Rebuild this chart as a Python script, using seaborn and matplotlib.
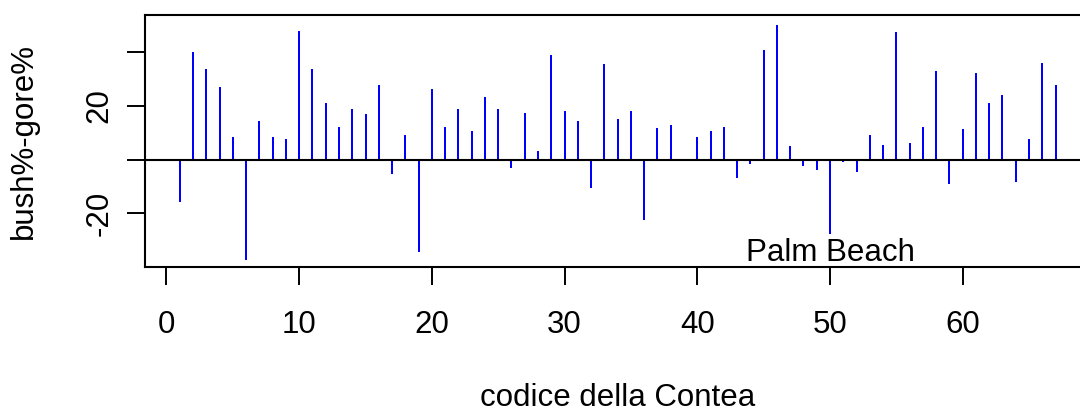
import numpy as np
import pandas as pd
import matplotlib
matplotlib.use("Agg")
import matplotlib.pyplot as plt
import seaborn as sns

# County code (1..67) and Bush% - Gore% margin for each Florida county
county_code = list(range(1, 68))
margin = [
    -15.9, 39.9, 33.9, 27.1, 8.5, -37.4, 14.5, 8.5, 7.8, 47.9,
    33.9, 21.1, 12.2, 19.0, 16.8, 27.9, -5.2, 9.1, -34.3, 26.3,
    12.2, 19.0, 10.8, 23.4, 19.0, -3.2, 17.4, 3.2, 39.0, 18.1,
    14.5, -10.7, 35.4, 15.2, 18.1, -22.5, 11.6, 13.0, 0.3, 8.5,
    10.8, 12.2, -6.9, -1.6, 40.6, 50.2, 4.9, -2.2, -3.8, -27.7,
    -0.9, -4.6, 9.2, 5.6, 47.3, 6.2, 12.2, 33.0, -9.1, 11.4,
    32.4, 21.1, 24.1, -8.3, 7.8, 36.1, 27.9,
]
x_ticks = [0, 10, 20, 30, 40, 50, 60]
y_ticks = [-20, 0, 20, 40]
y_tick_labels = ["-20", "", "20", ""]
annotation_x = 50
annotation_text = "Palm Beach"

sns.set_style("white")
plt.rcParams["font.family"] = ["Liberation Sans", "DejaVu Sans"]
plt.rcParams["text.color"] = "black"
plt.rcParams["axes.labelcolor"] = "black"
plt.rcParams["xtick.color"] = "black"
plt.rcParams["ytick.color"] = "black"

df = pd.DataFrame({"codice": county_code, "diff": margin})

fig = plt.figure(figsize=(10.8, 4.12), dpi=100)
W, H = 1080.0, 412.0
left_px, right_px, top_px, bottom_px = 144.7, 1090.6, 15.0, 266.7
ax = fig.add_axes([left_px / W, 1 - bottom_px / H,
                   (right_px - left_px) / W, (bottom_px - top_px) / H])

# thin vertical stems, about two pixels wide
sns.barplot(data=df, x="codice", y="diff", native_scale=True, width=0.151,
            color="#0000ff", saturation=1, errorbar=None, linewidth=0, ax=ax)

ax.axhline(0, color="black", lw=1.5, zorder=3)

ax.set_xlim(-1.64, 69.64)
ax.set_ylim(-39.8, 53.8)

ax.set_xticks(x_ticks)
ax.set_xticklabels([str(t) for t in x_ticks], fontsize=22.5)
ax.set_yticks(y_ticks)
ax.set_yticklabels(y_tick_labels, fontsize=22.5, rotation=90, va="center")

ax.tick_params(axis="both", which="major", direction="out", length=13,
               width=1.4, color="black", labelcolor="black",
               bottom=True, left=True)
ax.tick_params(axis="x", pad=18)
ax.tick_params(axis="y", pad=8.5)

for s in ax.spines.values():
    s.set_color("black")
    s.set_linewidth(1.5)
    s.set_visible(True)

ax.set_xlabel("codice della Contea", fontsize=22.5, va="center", color="black")
ax.xaxis.set_label_coords(0.5, -0.52)
ax.set_ylabel("bush%-gore%", fontsize=22.5, va="center", color="black")
ax.yaxis.set_label_coords((24 - left_px) / (right_px - left_px), 0.5)

ax.text(annotation_x, -37.7, annotation_text, fontsize=22.5, ha="center",
        va="baseline", color="black")

fig.savefig("out.png", dpi=100)
